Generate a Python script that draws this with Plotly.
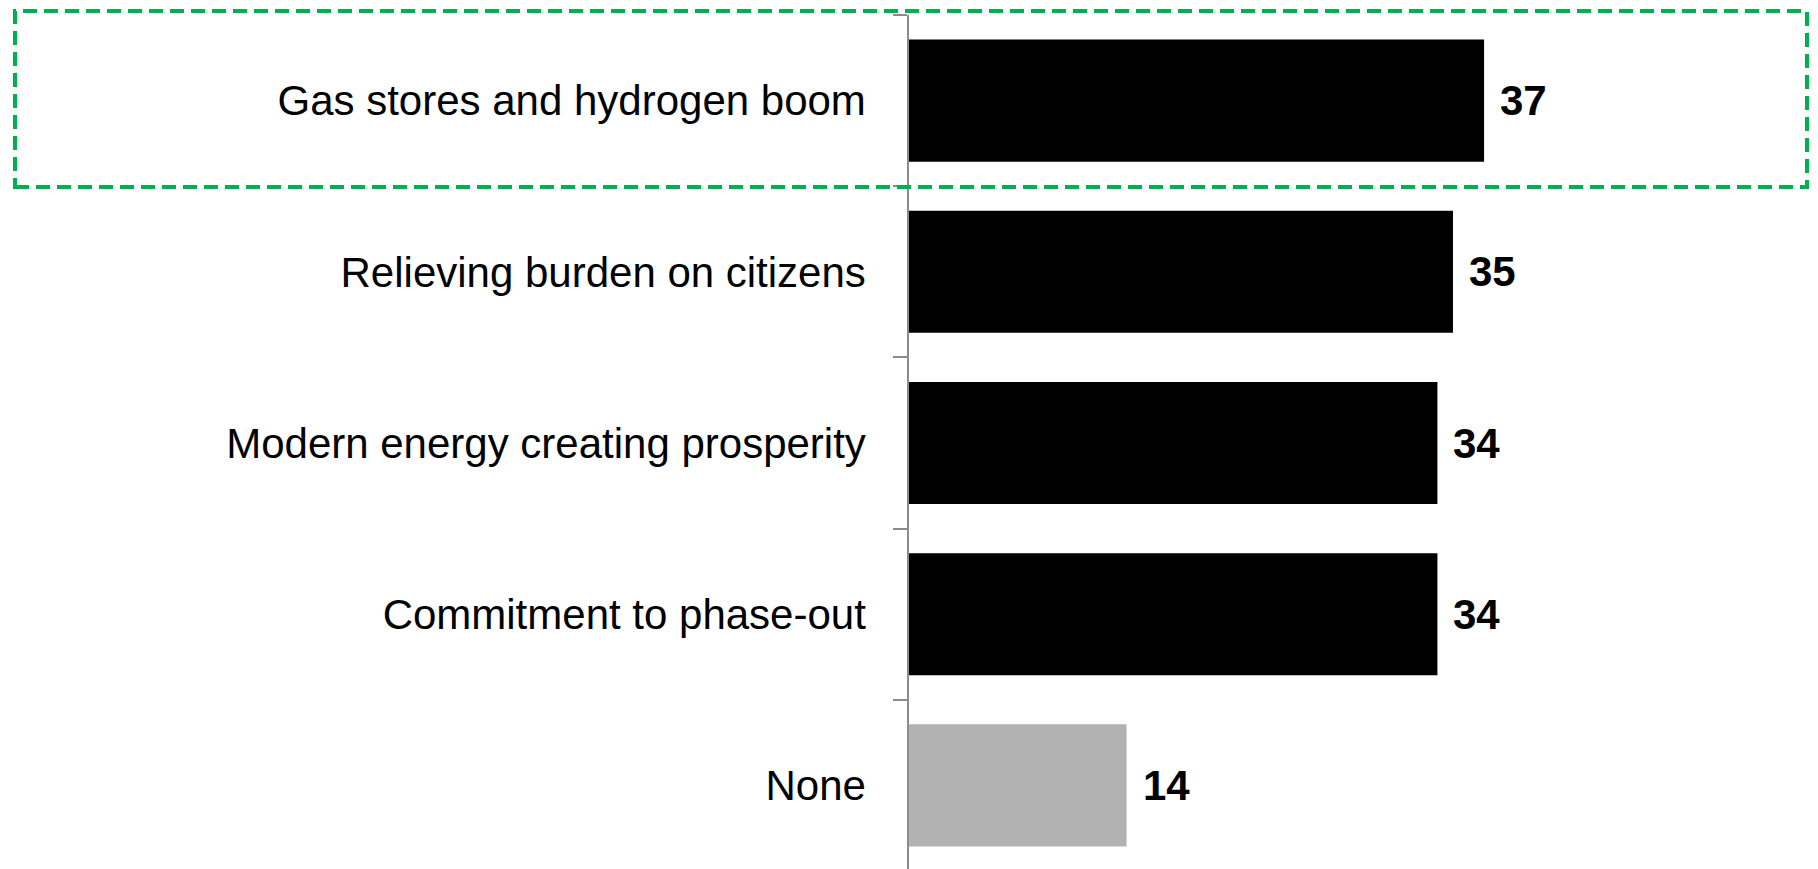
import plotly.graph_objects as go

categories = [
    "Gas stores and hydrogen boom",
    "Relieving burden on citizens",
    "Modern energy creating prosperity",
    "Commitment to phase-out",
    "None",
]
values = [37, 35, 34, 34, 14]
bar_colors = ["#000000", "#000000", "#000000", "#000000", "#B2B2B2"]

W, H = 1818, 869
ML, MR, MT, MB = 901, 0, 7, 6
FONT = "Liberation Sans, Arial, sans-serif"

fig = go.Figure()
fig.add_trace(go.Bar(
    x=values, y=categories, orientation="h",
    marker=dict(color=bar_colors, line=dict(width=0)),
    hoverinfo="skip", showlegend=False,
))

for c, v in zip(categories, values):
    fig.add_annotation(
        x=v, y=c, xref="x", yref="y", text=f"<b>{v}</b>",
        showarrow=False, xanchor="left", yanchor="middle", xshift=14,
        font=dict(family=FONT, size=42, color="#000000"),
    )

pw = W - ML - MR
ph = H - MT - MB
def px_x(p):
    return (p - ML) / pw
def px_y(p):
    return (H - MB - p) / ph

fig.add_shape(
    type="rect", xref="paper", yref="paper",
    x0=px_x(7), x1=px_x(1799), y0=px_y(179), y1=px_y(3),
    line=dict(color="#00B050", width=4, dash="14px,7px"),
    fillcolor="rgba(0,0,0,0)", layer="above",
)

fig.update_layout(
    width=W, height=H,
    margin=dict(l=ML, r=MR, t=MT, b=MB, pad=0),
    paper_bgcolor="white", plot_bgcolor="white",
    bargap=0.287,
    font=dict(family=FONT, color="#000000"),
    xaxis=dict(visible=False, range=[0, 59.0], fixedrange=True),
    yaxis=dict(
        autorange="reversed", type="category",
        showline=True, linecolor="#8C8C8C", linewidth=1.5,
        ticks="outside", tickson="boundaries", ticklen=14, tickwidth=1.5,
        tickcolor="#8C8C8C", showgrid=False, zeroline=False,
        tickfont=dict(family=FONT, size=42, color="#000000"),
        ticklabelstandoff=33,
    ),
)

fig.write_html("out.html")
